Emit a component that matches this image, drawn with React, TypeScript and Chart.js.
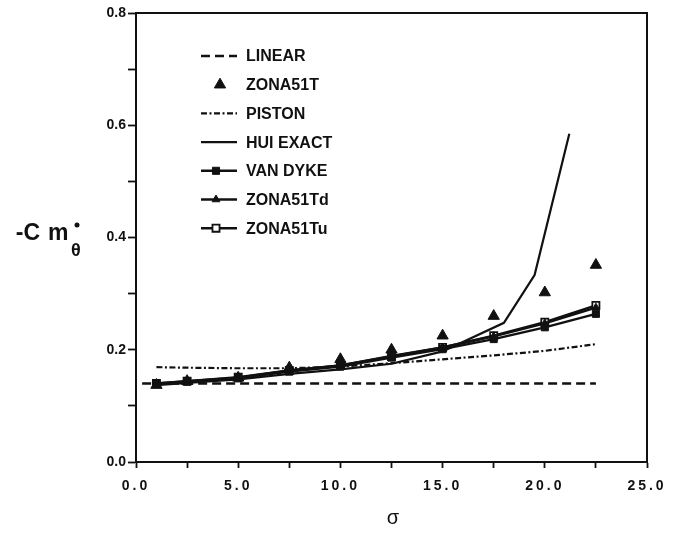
import React, { useEffect, useRef } from "react";
import { Chart, registerables } from "chart.js";

Chart.register(...registerables);

// ---- data ----
const sigma = [1, 2.5, 5, 7.5, 10, 12.5, 15, 17.5, 20, 22.5];
const linearSigma = [0.3, 22.5];
const linearValues = [0.14, 0.14];
const zona51TValues = [0.137, 0.144, 0.15, 0.168, 0.183, 0.2, 0.225, 0.26, 0.302, 0.351];
const pistonValues = [0.169, 0.168, 0.167, 0.167, 0.17, 0.176, 0.183, 0.19, 0.198, 0.21];
const huiSigma = [1, 2.5, 5, 7.5, 10, 12.5, 15, 18, 19.5, 21.2];
const huiValues = [0.137, 0.141, 0.147, 0.157, 0.165, 0.175, 0.197, 0.248, 0.333, 0.585];
const vanDykeValues = [0.139, 0.143, 0.149, 0.161, 0.17, 0.186, 0.201, 0.219, 0.24, 0.264];
const zona51TdValues = [0.14, 0.144, 0.15, 0.163, 0.172, 0.189, 0.204, 0.224, 0.247, 0.275];
const zona51TuValues = [0.14, 0.144, 0.151, 0.163, 0.172, 0.188, 0.204, 0.225, 0.249, 0.279];
const seriesLabels = ["LINEAR", "ZONA51T", "PISTON", "HUI EXACT", "VAN DYKE", "ZONA51Td", "ZONA51Tu"];
const xLabeledTicks = [0, 5, 10, 15, 20, 25];
const yLabeledTicks = [0, 0.2, 0.4, 0.6, 0.8];
const yAxisTitleMain = "-C";
const yAxisTitleM = "m";
const yAxisTitleSub = "θ";
const xAxisTitle = "σ";

const INK = "#111111";
const FONT = "'Liberation Sans', Arial, Helvetica, sans-serif";

const pts = (xs: number[], ys: number[]) => xs.map((x, i) => ({ x, y: ys[i] }));
const isLabeled = (list: number[], v: number) => list.some((t) => Math.abs(t - v) < 1e-6);

function drawMarker(
  ctx: CanvasRenderingContext2D,
  style: string,
  x: number,
  y: number,
  r: number,
  fill: string,
  stroke: string,
  lw: number
) {
  ctx.beginPath();
  if (style === "triangle") {
    const a = (2 * Math.PI) / 3;
    ctx.moveTo(x + Math.sin(a) * r, y - Math.cos(a) * r);
    ctx.lineTo(x + Math.sin(2 * a) * r, y - Math.cos(2 * a) * r);
    ctx.lineTo(x, y - r);
    ctx.closePath();
  } else {
    const s = r * Math.SQRT1_2;
    ctx.rect(x - s, y - s, 2 * s, 2 * s);
  }
  ctx.fillStyle = fill;
  ctx.fill();
  if (lw > 0) {
    ctx.lineWidth = lw;
    ctx.strokeStyle = stroke;
    ctx.stroke();
  }
}

const decorPlugin = {
  id: "decor",
  beforeDraw(chart: any) {
    (chart.ctx as any).letterSpacing = "0px";
  },
  afterDatasetsDraw(chart: any) {
    // x tick labels (drawn after this hook, ticks.z = 1) get the wide spacing of the original
    (chart.ctx as any).letterSpacing = "3px";
  },
  afterDraw(chart: any) {
    const ctx: CanvasRenderingContext2D = chart.ctx;
    (ctx as any).letterSpacing = "0px";
    ctx.save();
    const { left, top, right, bottom } = chart.chartArea;

    // top and right frame
    ctx.strokeStyle = INK;
    ctx.lineWidth = 2;
    ctx.setLineDash([]);
    ctx.beginPath();
    ctx.moveTo(left - 1, top);
    ctx.lineTo(right, top);
    ctx.lineTo(right, bottom + 1);
    ctx.stroke();

    // legend inside plot
    const x0 = left + 65;
    const x1 = left + 101;
    const textX = left + 110;
    chart.data.datasets.forEach((ds: any, i: number) => {
      const y = top + 43 + i * 28.7;
      if (ds.showLine !== false) {
        ctx.beginPath();
        ctx.setLineDash(ds.borderDash || []);
        ctx.lineWidth = ds.borderWidth || 2;
        ctx.strokeStyle = INK;
        ctx.moveTo(x0, y);
        ctx.lineTo(x1, y);
        ctx.stroke();
        ctx.setLineDash([]);
      }
      if (ds.pointRadius > 0) {
        const mx = ds.showLine === false ? left + 84 : left + 80;
        drawMarker(
          ctx,
          ds.pointStyle,
          mx,
          y,
          ds.pointRadius,
          ds.pointBackgroundColor,
          INK,
          ds.pointBorderWidth || 0
        );
      }
      ctx.fillStyle = INK;
      ctx.font = `bold 16px ${FONT}`;
      ctx.textAlign = "left";
      ctx.textBaseline = "middle";
      ctx.fillText(ds.label, textX, y + 1);
    });

    // y-axis title: -C m with θ subscript and dot
    ctx.fillStyle = INK;
    ctx.textBaseline = "alphabetic";
    ctx.font = `bold 23px ${FONT}`;
    ctx.textAlign = "right";
    ctx.fillText(yAxisTitleMain, 40, 240);
    ctx.textAlign = "left";
    ctx.fillText(yAxisTitleM, 48, 240);
    ctx.font = `bold 18px ${FONT}`;
    ctx.fillText(yAxisTitleSub, 71, 256);
    ctx.beginPath();
    ctx.arc(77, 225, 2.5, 0, Math.PI * 2);
    ctx.fill();

    // x-axis title
    ctx.font = `20px ${FONT}`;
    ctx.textAlign = "center";
    ctx.textBaseline = "middle";
    ctx.fillText(xAxisTitle, 393, 518);

    ctx.restore();
  },
};

export default function App() {
  const canvasRef = useRef<HTMLCanvasElement | null>(null);

  useEffect(() => {
    const canvas = canvasRef.current;
    if (!canvas) return;
    const lineBase = {
      borderColor: INK,
      backgroundColor: INK,
      pointBackgroundColor: INK,
      pointBorderColor: INK,
      fill: false,
      tension: 0,
    };
    const chart = new Chart(canvas, {
      type: "scatter",
      data: {
        datasets: [
          {
            ...lineBase,
            label: seriesLabels[0],
            data: pts(linearSigma, linearValues),
            showLine: true,
            borderWidth: 2.5,
            borderDash: [9, 5],
            pointRadius: 0,
          },
          {
            ...lineBase,
            label: seriesLabels[1],
            data: pts(sigma, zona51TValues),
            showLine: false,
            pointStyle: "triangle",
            pointRadius: 6.5,
            pointBorderWidth: 1,
          },
          {
            ...lineBase,
            label: seriesLabels[2],
            data: pts(sigma, pistonValues),
            showLine: true,
            borderWidth: 2.2,
            borderDash: [6, 2.5, 2, 2.5],
            pointRadius: 0,
          },
          {
            ...lineBase,
            label: seriesLabels[3],
            data: pts(huiSigma, huiValues),
            showLine: true,
            borderWidth: 2.2,
            pointRadius: 0,
          },
          {
            ...lineBase,
            label: seriesLabels[4],
            data: pts(sigma, vanDykeValues),
            showLine: true,
            borderWidth: 2.4,
            pointStyle: "rect",
            pointRadius: 5,
            pointBorderWidth: 1,
          },
          {
            ...lineBase,
            label: seriesLabels[5],
            data: pts(sigma, zona51TdValues),
            showLine: true,
            borderWidth: 2.4,
            pointStyle: "triangle",
            pointRadius: 4.5,
            pointBorderWidth: 1,
          },
          {
            ...lineBase,
            label: seriesLabels[6],
            data: pts(sigma, zona51TuValues),
            showLine: true,
            borderWidth: 2.4,
            pointStyle: "rect",
            pointRadius: 5,
            pointBackgroundColor: "#ffffff",
            pointBorderWidth: 1.8,
          },
        ] as any,
      },
      options: {
        responsive: false,
        animation: false,
        events: [],
        layout: { padding: { top: 13, right: 32, left: 0, bottom: 0 } },
        plugins: {
          legend: { display: false },
          tooltip: { enabled: false },
          title: { display: false },
        },
        scales: {
          x: {
            type: "linear",
            min: 0,
            max: 25,
            afterFit(scale: any) {
              scale.height = 72;
            },
            ticks: {
              stepSize: 2.5,
              autoSkip: false,
              maxRotation: 0,
              z: 1,
              padding: 10,
              color: INK,
              font: { family: FONT, size: 14, weight: "bold" },
              callback: (v: any) => (isLabeled(xLabeledTicks, Number(v)) ? Number(v).toFixed(1) : ""),
            },
            grid: {
              drawOnChartArea: false,
              drawTicks: true,
              tickLength: 6,
              tickColor: INK,
              tickWidth: 1.8,
            },
            border: { display: true, color: INK, width: 2 },
          },
          y: {
            type: "linear",
            min: 0,
            max: 0.8,
            afterFit(scale: any) {
              scale.width = 136;
            },
            ticks: {
              stepSize: 0.1,
              autoSkip: false,
              padding: 2,
              color: INK,
              font: { family: FONT, size: 14, weight: "bold" },
              callback: (v: any) => (isLabeled(yLabeledTicks, Number(v)) ? Number(v).toFixed(1) : ""),
            },
            grid: {
              drawOnChartArea: false,
              drawTicks: true,
              tickLength: 8,
              tickColor: INK,
              tickWidth: 1.8,
            },
            border: { display: true, color: INK, width: 2 },
          },
        },
      } as any,
      plugins: [decorPlugin as any],
    });
    return () => chart.destroy();
  }, []);

  return (
    <div
      style={{
        position: "fixed",
        left: 0,
        top: 0,
        width: 679,
        height: 534,
        background: "#ffffff",
      }}
    >
      <canvas ref={canvasRef} width={679} height={534} style={{ display: "block" }} />
    </div>
  );
}
